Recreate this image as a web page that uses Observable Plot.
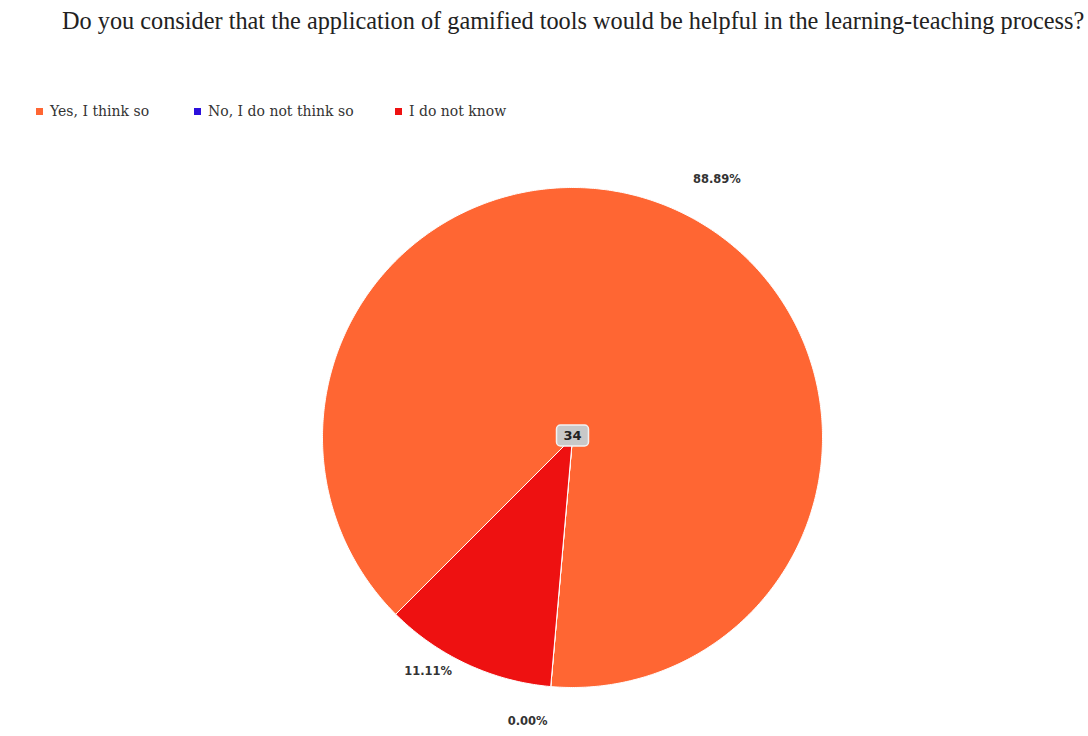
<!DOCTYPE html>
<html>
<head>
<meta charset="utf-8">
<script src="https://cdn.jsdelivr.net/npm/d3@7"></script>
<script src="https://cdn.jsdelivr.net/npm/@observablehq/plot@0.6"></script>
<style>
  html, body { margin: 0; padding: 0; background: #fff; }
  #wrap { position: relative; width: 1088px; height: 736px; overflow: hidden; }
  #title { position: absolute; left: 0; top: 7px; width: 1088px; padding-left: 62px; box-sizing: border-box;
           font-family: "Liberation Serif", serif; font-size: 24.3px; color: #222; white-space: nowrap; }
  #legend { position: absolute; left: 36px; top: 103px; font-family: "DejaVu Serif", serif; font-size: 14px; color: #333; white-space: nowrap; }
  .item { position: absolute; top: 0; display: flex; align-items: center; }
  .sw { width: 7px; height: 7px; margin-right: 7px; }
  #chart { position: absolute; left: 0; top: 130px; }
</style>
</head>
<body>
<div id="wrap">
  <div id="title"></div>
  <div id="legend"></div>
  <div id="chart"></div>
</div>
<script>
const titleText = "Do you consider that the application of gamified tools would be helpful in the learning-teaching process?";
const categories = ["Yes, I think so", "No, I do not think so", "I do not know"];
const percentages = [88.89, 0.00, 11.11];
const colors = ["#ff6633", "#2b10dc", "#ee1111"];
const centerLabel = "34";

document.getElementById("title").textContent = titleText;

// legend
const legendOffsets = [0, 158, 359];
const legend = document.getElementById("legend");
categories.forEach((c, i) => {
  const it = document.createElement("div");
  it.className = "item";
  it.style.left = legendOffsets[i] + "px";
  const sw = document.createElement("span");
  sw.className = "sw";
  sw.style.background = colors[i];
  const tx = document.createElement("span");
  tx.textContent = c;
  it.appendChild(sw); it.appendChild(tx);
  legend.appendChild(it);
});

const data = categories.map((c, i) => ({key: c, value: percentages[i]}));
const R = 250;
const start = 5 * Math.PI / 4;
const arcs = d3.pie().sort(null).value(d => d.value).startAngle(start).endAngle(start + 2 * Math.PI)(data);

const polys = [];
for (const a of arcs) {
  const span = a.endAngle - a.startAngle;
  const n = Math.max(1, Math.ceil(span / (Math.PI / 360)));
  polys.push({key: a.data.key, x: 0, y: 0});
  for (let k = 0; k <= n; k++) {
    const t = a.startAngle + span * k / n;
    polys.push({key: a.data.key, x: R * Math.sin(t), y: -R * Math.cos(t)});
  }
  polys.push({key: a.data.key, x: 0, y: 0});
}

const RL = 285;
const labels = arcs.map(a => {
  const m = (a.startAngle + a.endAngle) / 2;
  return {key: a.data.key, text: a.data.value.toFixed(2) + "%", x: RL * Math.sin(m), y: -RL * Math.cos(m), right: Math.sin(m) >= 0};
});
// simple vertical de-overlap for the left-side labels (push upward ones up)
const left = labels.filter(d => !d.right).sort((a, b) => b.y - a.y);
for (let i = 1; i < left.length; i++) {
  if (left[i - 1].y - left[i].y < 50) left[i].y = left[i - 1].y - 50;
}

const boxSymbol = {
  draw(ctx) {
    const w = 32, h = 21, r = 4, x0 = -w / 2, y0 = -h / 2;
    ctx.moveTo(x0 + r, y0);
    ctx.lineTo(x0 + w - r, y0);
    ctx.arcTo(x0 + w, y0, x0 + w, y0 + r, r);
    ctx.lineTo(x0 + w, y0 + h - r);
    ctx.arcTo(x0 + w, y0 + h, x0 + w - r, y0 + h, r);
    ctx.lineTo(x0 + r, y0 + h);
    ctx.arcTo(x0, y0 + h, x0, y0 + h - r, r);
    ctx.lineTo(x0, y0 + r);
    ctx.arcTo(x0, y0, x0 + r, y0, r);
    ctx.closePath();
  }
};

const chart = Plot.plot({
  width: 1088,
  height: 606,
  margin: 0,
  x: {type: "linear", domain: [-572, 516], range: [0, 1088], axis: null},
  y: {type: "linear", domain: [-307, 299], range: [0, 606], axis: null},
  color: {domain: categories, range: colors},
  marks: [
    Plot.line(polys, {x: "x", y: "y", z: "key", fill: "key", stroke: "#ffffff", strokeWidth: 1, strokeLinejoin: "round"}),
    Plot.text(labels.filter(d => d.right), {x: "x", y: "y", text: "text", textAnchor: "start", fontSize: 11.5, fontWeight: "bold", fill: "#333", fontFamily: "DejaVu Sans, sans-serif"}),
    Plot.text(labels.filter(d => !d.right), {x: "x", y: "y", text: "text", textAnchor: "end", fontSize: 11.5, fontWeight: "bold", fill: "#333", fontFamily: "DejaVu Sans, sans-serif"}),
    Plot.dot([{x: 0, y: 0}], {x: "x", y: "y", symbol: boxSymbol, r: 10, fill: "#c8c8c8", stroke: "#f2f2f2", strokeWidth: 1.5, dy: -2}),
    Plot.text([{x: 0, y: 0, t: centerLabel}], {x: "x", y: "y", text: "t", fontSize: 13, fontWeight: "bold", fill: "#222", dy: -2, fontFamily: "DejaVu Sans, sans-serif"})
  ]
});
document.getElementById("chart").appendChild(chart);
</script>
</body>
</html>
